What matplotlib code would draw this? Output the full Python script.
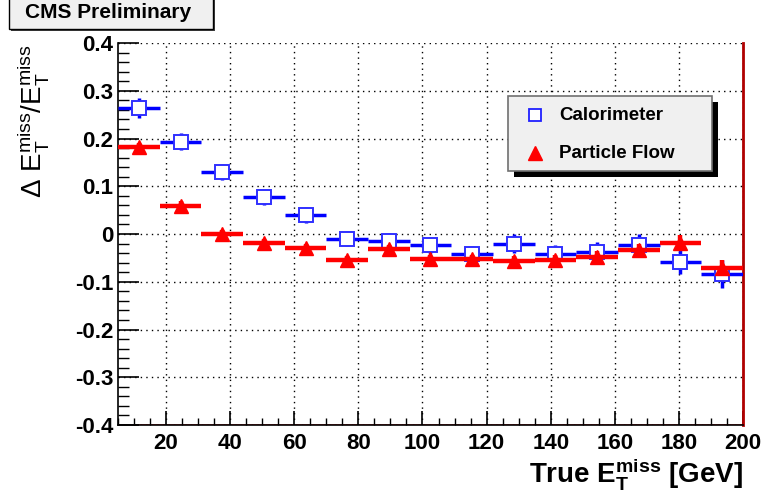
import matplotlib
matplotlib.use("Agg")
import matplotlib.pyplot as plt
from matplotlib.patches import Rectangle
from matplotlib.lines import Line2D
from matplotlib.ticker import MultipleLocator
import numpy as np

plt.rcParams['font.family'] = ['Liberation Sans', 'DejaVu Sans']
plt.rcParams['mathtext.fontset'] = 'custom'
plt.rcParams['mathtext.rm'] = 'Liberation Sans:bold'
plt.rcParams['mathtext.bf'] = 'Liberation Sans:bold'
plt.rcParams['mathtext.it'] = 'Liberation Sans:bold'
plt.rcParams['mathtext.sf'] = 'Liberation Sans:bold'

# ---- data ----
bin_edges = [5, 18, 31, 44, 57, 70, 83, 96, 109, 122, 135, 148, 161, 174, 187, 200]
calo_vals = [0.263, 0.193, 0.130, 0.077, 0.040, -0.010, -0.014, -0.024, -0.042, -0.020,
             -0.041, -0.037, -0.022, -0.058, -0.084]
calo_errs = [0.021, 0.018, 0.017, 0.016, 0.016, 0.016, 0.017, 0.017, 0.017, 0.019,
             0.019, 0.020, 0.021, 0.026, 0.030]
pf_vals = [0.183, 0.058, 0.001, -0.018, -0.029, -0.055, -0.032, -0.053, -0.053, -0.056,
           -0.055, -0.048, -0.034, -0.018, -0.071]
pf_errs = [0.008, 0.012, 0.008, 0.008, 0.008, 0.008, 0.009, 0.009, 0.010, 0.010,
           0.011, 0.012, 0.013, 0.016, 0.016]
x_ticks = [20, 40, 60, 80, 100, 120, 140, 160, 180, 200]
y_ticks = [-0.4, -0.3, -0.2, -0.1, 0, 0.1, 0.2, 0.3, 0.4]
y_ticklabels = ['-0.4', '-0.3', '-0.2', '-0.1', '0', '0.1', '0.2', '0.3', '0.4']

edges = np.array(bin_edges, dtype=float)
centers = 0.5 * (edges[:-1] + edges[1:])
half = 0.5 * (edges[1:] - edges[:-1])

W, H = 761, 498
fig = plt.figure(figsize=(W / 100, H / 100), dpi=100)
ax = fig.add_axes([118 / W, (H - 425) / H, (743 - 118) / W, (425 - 43) / H])

ax.set_xlim(5, 200)
ax.set_ylim(-0.4, 0.4)

# grid
ax.set_xticks(x_ticks)
ax.set_yticks(y_ticks)
ax.set_yticklabels(y_ticklabels)
ax.grid(True, color='black', linestyle=(0, (1, 3)), linewidth=1.0)
ax.xaxis.set_minor_locator(MultipleLocator(5))
ax.yaxis.set_minor_locator(MultipleLocator(0.02))

# calorimeter
ax.errorbar(centers, calo_vals, xerr=half, yerr=calo_errs, fmt='s', ms=9.5,
            mfc='white', mec='#3030ff', mew=1.4, ecolor='#0000ff', elinewidth=2.5,
            capsize=0, zorder=4)
# particle flow
ax.errorbar(centers, pf_vals, xerr=half, yerr=pf_errs, fmt='^', ms=9.5,
            mfc='#ff0000', mec='#ff0000', ecolor='#ff0000', elinewidth=3.2,
            capsize=0, zorder=5)

# spines / ticks
ax.spines['top'].set_visible(False)
ax.spines['right'].set_color('#b00000')
ax.spines['right'].set_linewidth(2)
ax.spines['left'].set_linewidth(1.2)
ax.spines['bottom'].set_linewidth(1.2)
ax.axhline(-0.4, color='#ff3030', lw=1.2, zorder=1)
ax.tick_params(axis='both', which='both', direction='in', top=False, right=False)
ax.tick_params(axis='y', which='major', length=15, width=1.2, pad=3.5)
ax.tick_params(axis='y', which='minor', length=8, width=1)
ax.tick_params(axis='x', which='major', length=10, width=1.2, pad=6)
ax.tick_params(axis='x', which='minor', length=5, width=1)

for lab in ax.get_xticklabels() + ax.get_yticklabels():
    lab.set_fontweight('bold')
    lab.set_fontsize(16)

ax.set_xlabel(r'True $\mathregular{E_T^{miss}}$ [GeV]', fontsize=20, fontweight='bold')
ax.xaxis.set_label_coords(1.0, -0.082)
ax.xaxis.label.set_ha('right')
ax.xaxis.label.set_va('top')

ax.set_ylabel('\u0394 $\\mathregular{E_T^{miss}/E_T^{miss}}$', fontsize=20, fontweight='normal')
ax.yaxis.set_label_coords(-0.107, 0.997)
ax.yaxis.label.set_ha('right')

# CMS Preliminary box
fig.patches.append(Rectangle((11 / W, (H - 31) / H), 204 / W, 33 / H, transform=fig.transFigure,
                             facecolor='#404040', edgecolor='none', zorder=1))
fig.patches.append(Rectangle((9 / W, (H - 29) / H), 204 / W, 31 / H, transform=fig.transFigure,
                             facecolor='#f0f0f0', edgecolor='black', lw=1, zorder=2))
fig.text(108 / W, (H - 13) / H, 'CMS Preliminary', ha='center', va='center',
         fontsize=15, fontweight='bold', zorder=3)

# legend box
lx0, lx1, ly0, ly1 = 508, 712, 96, 171
fig.patches.append(Rectangle(((lx0 + 6) / W, (H - ly1 - 6) / H), (lx1 - lx0) / W, (ly1 - ly0) / H,
                             transform=fig.transFigure, facecolor='black', edgecolor='none', zorder=6))
fig.patches.append(Rectangle((lx0 / W, (H - ly1) / H), (lx1 - lx0) / W, (ly1 - ly0) / H,
                             transform=fig.transFigure, facecolor='#f0f0f0', edgecolor='#707070',
                             lw=1.2, zorder=7))
fig.lines.append(Line2D([534.5 / W], [(H - 115) / H], transform=fig.transFigure, marker='s', ms=9,
                        mfc='white', mec='#2020ff', mew=1.3, zorder=8))
fig.lines.append(Line2D([534.5 / W], [(H - 153) / H], transform=fig.transFigure, marker='^', ms=9.5,
                        mfc='#ff0000', mec='#ff0000', zorder=8))
fig.text(559 / W, (H - 115) / H, 'Calorimeter', ha='left', va='center', fontsize=13.5,
         fontweight='bold', zorder=8)
fig.text(559 / W, (H - 153) / H, 'Particle Flow', ha='left', va='center', fontsize=13.5,
         fontweight='bold', zorder=8)

fig.savefig('out.png', dpi=100)
